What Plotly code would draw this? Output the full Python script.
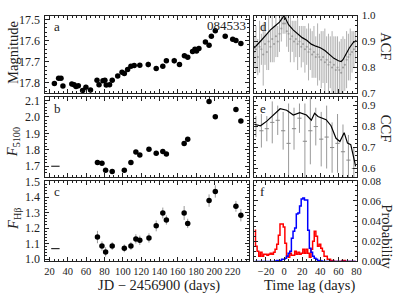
import plotly.graph_objects as go

# ---------------- data ----------------
jd_a = [25.4, 30.0, 32.6, 34.7, 44.4, 46.9, 49.0, 51.5, 56.2, 59.8, 64.8, 71.9, 74.1, 78.4, 80.5,
        82.0, 85.6, 88.5, 94.5, 99.2, 101.7, 105.3, 108.9, 112.5, 118.6, 127.8, 136.5, 143.7, 147.6,
        156.2, 161.9, 167.3, 170.9, 176.2, 178.8, 180.5, 183.1, 190.2, 194.2, 196.7, 201.0, 211.8,
        220.0, 223.5, 228.9]
mag = [17.802, 17.778, 17.778, 17.814, 17.805, 17.808, 17.817, 17.813, 17.836, 17.820, 17.833,
       17.787, 17.808, 17.790, 17.787, 17.810, 17.808, 17.787, 17.767, 17.749, 17.755, 17.736,
       17.721, 17.718, 17.716, 17.713, 17.732, 17.721, 17.695, 17.695, 17.713, 17.672, 17.678,
       17.652, 17.641, 17.649, 17.637, 17.606, 17.622, 17.580, 17.553, 17.579, 17.594, 17.599,
       17.614]
mag_err = [0.006, 0.006, 0.006, 0.008, 0.006, 0.006, 0.006, 0.006, 0.006, 0.012, 0.006,
           0.006, 0.006, 0.006, 0.006, 0.010, 0.006, 0.006, 0.006, 0.006, 0.006, 0.006,
           0.006, 0.006, 0.006, 0.014, 0.006, 0.006, 0.006, 0.014, 0.006, 0.006, 0.006,
           0.006, 0.008, 0.008, 0.012, 0.006, 0.010, 0.006, 0.006, 0.006, 0.006, 0.006,
           0.006]

jd_s = [72.4, 77.3, 81.3, 88.5, 101.7, 108.9, 114.3, 118.6, 128.6, 136.5, 143.7, 147.6,
        167.0, 170.9, 194.2, 201.0, 223.5, 228.9]
f5100 = [1.722, 1.718, 1.676, 1.668, 1.676, 1.722, 1.787, 1.768, 1.803, 1.779, 1.789, 1.775,
         1.839, 1.864, 2.094, 2.001, 2.045, 1.975]
f5100_err = [0.012, 0.010, 0.010, 0.008, 0.008, 0.010, 0.010, 0.008, 0.010, 0.008, 0.010, 0.008,
             0.012, 0.012, 0.010, 0.010, 0.012, 0.012]
fhb = [1.142, 1.084, 1.046, 1.084, 1.069, 1.084, 1.130, 1.121, 1.136, 1.214, 1.297, 1.252,
       1.297, 1.230, 1.377, 1.436, 1.340, 1.283]
fhb_err = [0.040, 0.030, 0.030, 0.025, 0.025, 0.025, 0.030, 0.030, 0.030, 0.035, 0.035, 0.030,
           0.045, 0.030, 0.040, 0.040, 0.035, 0.040]

# ACF
acf_line_lag = [-33, -30, -25, -20, -15, -10, -5, 0, 5, 10, 15, 20, 25, 30, 35, 40, 45, 50,
                55, 60, 63, 65, 68, 72, 76, 80]
acf_line = [0.875, 0.885, 0.905, 0.925, 0.945, 0.960, 0.975, 1.000, 0.965, 0.945, 0.930, 0.915,
            0.905, 0.890, 0.882, 0.876, 0.865, 0.850, 0.835, 0.826, 0.823, 0.830, 0.850, 0.875,
            0.895, 0.905]
acf_pt_lag = list(range(-33, 80, 2))
acf_pt = [0.86, 0.87, 0.84, 0.88, 0.87, 0.85, 0.89, 0.86, 0.90, 0.88,
          0.91, 0.89, 0.92, 0.90, 0.93, 0.95, 0.97, 0.97, 0.94, 0.93,
          0.91, 0.92, 0.90, 0.91, 0.89, 0.90, 0.88, 0.89, 0.87, 0.88,
          0.86, 0.87, 0.85, 0.86, 0.84, 0.85, 0.84, 0.83, 0.84, 0.82,
          0.83, 0.81, 0.82, 0.80, 0.81, 0.79, 0.80, 0.79, 0.78, 0.80,
          0.81, 0.83, 0.84, 0.85, 0.86, 0.87, 0.88]
acf_pt_err = [0.06, 0.09, 0.07, 0.10, 0.06, 0.12, 0.08, 0.07, 0.11, 0.06,
              0.09, 0.07, 0.08, 0.06, 0.07, 0.05, 0.04, 0.04, 0.06, 0.07,
              0.09, 0.06, 0.08, 0.07, 0.10, 0.06, 0.08, 0.07, 0.09, 0.07,
              0.11, 0.08, 0.09, 0.10, 0.08, 0.12, 0.09, 0.11, 0.10, 0.13,
              0.09, 0.12, 0.10, 0.14, 0.11, 0.13, 0.12, 0.11, 0.13, 0.12,
              0.10, 0.11, 0.09, 0.10, 0.08, 0.07, 0.06]

# CCF
ccf_line_lag = [-33, -26, -19, -11.5, -4.3, 2.9, 10.2, 17.4, 24.7, 30.1, 33.7, 37.4, 46.4,
                51.8, 57.3, 61.6, 66.3, 70, 73.6, 79]
ccf_line = [0.811, 0.804, 0.826, 0.855, 0.885, 0.878, 0.855, 0.866, 0.855, 0.830, 0.863, 0.848,
            0.833, 0.804, 0.744, 0.729, 0.771, 0.721, 0.714, 0.610]
ccf_pt_lag = [-31, -25, -19, -13, -7, -1, 5, 11, 17, 23, 29, 35, 41, 47, 53, 59, 65, 71, 77]
ccf_pt = [0.80, 0.78, 0.79, 0.82, 0.83, 0.78, 0.72, 0.79, 0.84, 0.73, 0.78, 0.80, 0.74, 0.75,
          0.70, 0.72, 0.68, 0.64, 0.60]
ccf_pt_err = [0.05, 0.08, 0.06, 0.10, 0.07, 0.09, 0.19, 0.10, 0.07, 0.18, 0.16, 0.09, 0.13, 0.15,
              0.12, 0.14, 0.13, 0.12, 0.10]

# lag distributions (bin centres, 1.8-day bins)
hist_lag = [round(-32.4 + 1.8 * i, 1) for i in range(63)]
prob_red = [0.031, 0.015, 0.010, 0.005, 0.009, 0.005, 0.007, 0.007, 0.006, 0.007,
            0.008, 0.007, 0.009, 0.012, 0.017, 0.026, 0.037, 0.037, 0.034, 0.018,
            0.005, 0.004, 0.008, 0.006, 0.006, 0.010, 0.007, 0.009, 0.007, 0.008,
            0.012, 0.008, 0.012, 0.008, 0.004, 0.012, 0.020, 0.030, 0.025, 0.015,
            0.017, 0.013, 0.010, 0.005, 0.005, 0.002, 0.002, 0.001, 0.001, 0.0,
            0.0, 0.0, 0.0, 0.0, 0.001, 0.001, 0.0, 0.0, 0.0, 0.0,
            0.0, 0.0, 0.0]
prob_blue = [0.0, 0.0, 0.0, 0.0, 0.0, 0.0, 0.0, 0.0, 0.0, 0.0,
             0.0, 0.0, 0.0, 0.0005, 0.001, 0.001, 0.001, 0.002, 0.002, 0.003,
             0.005, 0.008, 0.010, 0.023, 0.030, 0.033, 0.047, 0.048, 0.055, 0.062,
             0.063, 0.061, 0.061, 0.031, 0.013, 0.009, 0.005, 0.003, 0.002, 0.001,
             0.001, 0.0005, 0.0, 0.0, 0.0, 0.0, 0.0, 0.0, 0.0, 0.0,
             0.0, 0.0, 0.0, 0.0, 0.0, 0.0, 0.0, 0.0, 0.0, 0.0,
             0.0, 0.0, 0.0]

# ---------------- figure ----------------
W, H = 399, 301
def px(x):
    return x / W
def py(y):
    return 1 - y / H

FONT = "Liberation Serif"
INK = "#222222"
fig = go.Figure()

mk = dict(color="black", size=5.5)
eb = dict(type="data", thickness=1, width=0, color="#999999")

fig.add_trace(go.Scatter(x=jd_a, y=mag, mode="markers", marker=mk,
                         error_y=dict(array=mag_err, **eb), xaxis="x", yaxis="y"))
fig.add_trace(go.Scatter(x=jd_s, y=f5100, mode="markers", marker=mk,
                         error_y=dict(array=f5100_err, **eb), xaxis="x2", yaxis="y2"))
fig.add_trace(go.Scatter(x=[26.5], y=[1.70], mode="markers",
                         marker=dict(symbol="line-ew", size=6, line=dict(width=1, color="black")),
                         xaxis="x2", yaxis="y2"))
fig.add_trace(go.Scatter(x=jd_s, y=fhb, mode="markers", marker=mk,
                         error_y=dict(array=fhb_err, **eb), xaxis="x3", yaxis="y3"))
fig.add_trace(go.Scatter(x=[26.5], y=[1.067], mode="markers",
                         marker=dict(symbol="line-ew", size=6, line=dict(width=1, color="black")),
                         xaxis="x3", yaxis="y3"))

# ACF
fig.add_trace(go.Scatter(x=acf_pt_lag, y=acf_pt, mode="markers",
                         marker=dict(color="#999999", size=2),
                         error_y=dict(array=acf_pt_err, type="data", thickness=1, width=0, color="#b0b0b0"),
                         xaxis="x4", yaxis="y4"))
fig.add_trace(go.Scatter(x=acf_line_lag, y=acf_line, mode="lines",
                         line=dict(color="black", width=1.2), xaxis="x4", yaxis="y4"))
# CCF
fig.add_trace(go.Scatter(x=ccf_pt_lag, y=ccf_pt, mode="markers",
                         marker=dict(symbol="line-ew", size=3, line=dict(width=1, color="#888888")),
                         error_y=dict(array=ccf_pt_err, type="data", thickness=1, width=0, color="#999999"),
                         xaxis="x5", yaxis="y5"))
fig.add_trace(go.Scatter(x=ccf_line_lag, y=ccf_line, mode="lines",
                         line=dict(color="black", width=1.2), xaxis="x5", yaxis="y5"))
# histograms
fig.add_trace(go.Scatter(x=hist_lag, y=prob_red, mode="lines", line_shape="hvh",
                         line=dict(color="#ff0000", width=1.5), xaxis="x6", yaxis="y6"))
fig.add_trace(go.Scatter(x=hist_lag, y=prob_blue, mode="lines", line_shape="hvh",
                         line=dict(color="#0000ff", width=1.5), xaxis="x6", yaxis="y6"))

xl = [px(45), px(252)]
xr = [px(257), px(361)]
ya = [py(91), py(10)]
yb = [py(178), py(95)]
yc = [py(266), py(182)]

def ax(domain, anchor, rng, dtick, mdtick, labels=True, side=None, fmt=None, tick0=None, fs=12,
       standoff=2):
    d = dict(domain=domain, anchor=anchor, range=rng, showline=True, linecolor=INK, linewidth=1,
             mirror="allticks", ticks="inside", ticklen=4, tickwidth=1, tickcolor=INK,
             minor=dict(ticks="inside", ticklen=2, dtick=mdtick, tickcolor=INK, tickwidth=1),
             dtick=dtick, showgrid=False, zeroline=False, showticklabels=labels,
             tickangle=0, ticklabelstandoff=standoff,
             tickfont=dict(family=FONT, size=fs, color=INK))
    if tick0 is not None:
        d["tick0"] = tick0
        d["minor"]["tick0"] = tick0
    if side:
        d["side"] = side
    if fmt:
        d["tickformat"] = fmt
    return d

XL = [15.5, 238]
XR = [-33, 80]
fig.update_layout(
    width=W, height=H, margin=dict(l=0, r=0, t=0, b=0, pad=0),
    paper_bgcolor="white", plot_bgcolor="white", showlegend=False,
    xaxis=ax(xl, "y", XL, 20, 5, labels=False, tick0=0),
    yaxis=ax(ya, "x", [17.849, 17.482], 0.1, 0.02, fmt=".1f", tick0=17.5),
    xaxis2=ax(xl, "y2", XL, 20, 5, labels=False, tick0=0),
    yaxis2=ax(yb, "x2", [1.635, 2.12], 0.1, 0.02, fmt=".1f", tick0=1.7),
    xaxis3=ax(xl, "y3", XL, 20, 5, tick0=0, fs=10.5, standoff=0),
    yaxis3=ax(yc, "x3", [0.985, 1.505], 0.1, 0.02, fmt=".1f", tick0=1.0),
    xaxis4=ax(xr, "y4", XR, 20, 5, labels=False, tick0=0),
    yaxis4=ax(ya, "x4", [0.7, 1.0], 0.1, 0.02, side="right", fmt=".1f", tick0=0.7, fs=11),
    xaxis5=ax(xr, "y5", XR, 20, 5, labels=False, tick0=0),
    yaxis5=ax(yb, "x5", [0.56, 0.94], 0.1, 0.02, side="right", fmt=".1f", tick0=0.6, fs=11),
    xaxis6=ax(xr, "y6", XR, 20, 5, tick0=0, fs=10.5, standoff=0),
    yaxis6=ax(yc, "x6", [0, 0.08], 0.02, 0.005, side="right", fmt=".2f", tick0=0, fs=11),
)

ann = []
for i, lab in enumerate(["a", "b", "c", "d", "e", "f"]):
    s = "" if i == 0 else str(i + 1)
    ann.append(dict(text=lab, xref=f"x{s} domain", yref=f"y{s} domain", x=0.035, y=0.98,
                    xanchor="left", yanchor="top", showarrow=False,
                    font=dict(family=FONT, size=13, color=INK)))
ann.append(dict(text="084533", xref="x domain", yref="y domain", x=0.995, y=0.995,
                xanchor="right", yanchor="top", showarrow=False,
                font=dict(family=FONT, size=13, color=INK)))
titles = [
    ("Magnitude", 12, 48, -90),
    ("<i>F</i><sub>5100</sub>", 13, 142, -90),
    ("<i>F</i><sub>Hβ</sub>", 13, 222, -90),
    ("JD − 2456900 (days)", 160, 291, 0),
    ("Time lag (days)", 313, 291, 0),
    ("ACF", 391, 42, 90),
    ("CCF", 391, 127, 90),
    ("Probability", 391, 240, 90),
]
for t, x, y, a in titles:
    ann.append(dict(text=t, xref="paper", yref="paper", x=px(x), y=py(y), xanchor="center",
                    yanchor="middle", showarrow=False, textangle=a,
                    font=dict(family=FONT, size=14.5, color=INK)))
fig.update_layout(annotations=ann)

fig.write_html("out.html", config={"displayModeBar": False, "staticPlot": True},
               post_script="document.body.style.margin='0px';document.body.style.overflow='hidden';")
